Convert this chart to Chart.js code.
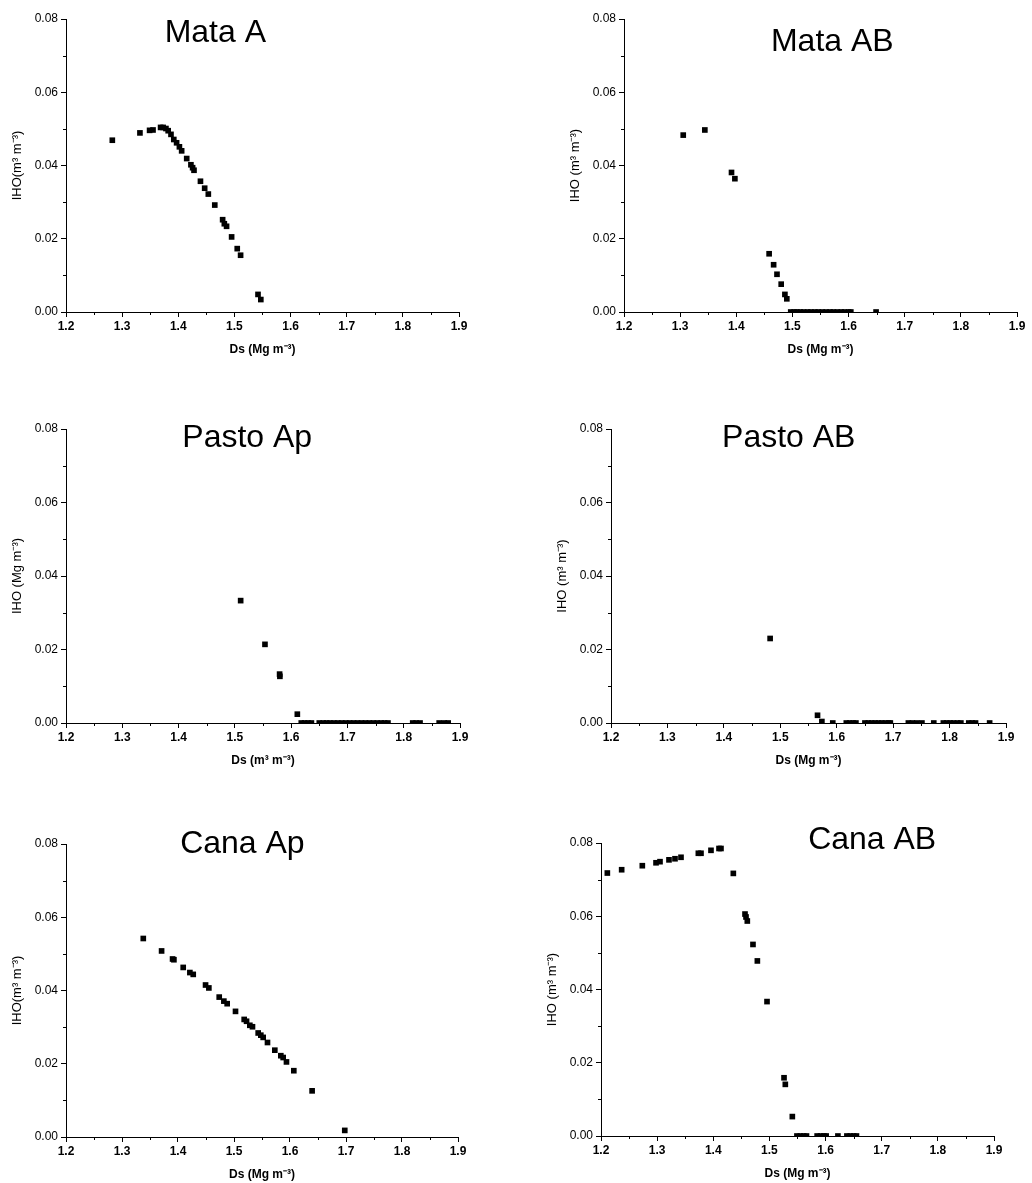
<!DOCTYPE html>
<html>
<head>
<meta charset="utf-8">
<script src="https://cdn.jsdelivr.net/npm/chart.js@4.4.1/dist/chart.umd.min.js"></script>
<style>
  body { margin: 0; background: #fff; }
  #wrap { position: relative; width: 1032px; height: 1183px; }
  canvas { position: absolute; }
</style>
</head>
<body>
<div id="wrap">
  <canvas id="c1" style="left:0px;top:0px" width="474" height="357"></canvas>
  <canvas id="c2" style="left:558px;top:0px" width="474" height="357"></canvas>
  <canvas id="c3" style="left:0px;top:410px" width="475" height="358"></canvas>
  <canvas id="c4" style="left:545px;top:410px" width="476" height="358"></canvas>
  <canvas id="c5" style="left:0px;top:825px" width="473" height="357"></canvas>
  <canvas id="c6" style="left:535px;top:824px" width="474" height="357"></canvas>
</div>
<script>
// Mata A
const mataA_x = [1.2825, 1.3317, 1.3489, 1.355, 1.3685, 1.373, 1.378, 1.382, 1.387, 1.392, 1.397, 1.402, 1.406,
  1.415, 1.4225, 1.4255, 1.428, 1.4395, 1.447, 1.4535, 1.465, 1.479, 1.482, 1.486, 1.495, 1.505, 1.511, 1.542, 1.547];
const mataA_y = [0.0469, 0.0489, 0.0496, 0.0497, 0.0504, 0.0504, 0.0501, 0.0495, 0.0485, 0.0471, 0.0462, 0.0451, 0.0440,
  0.0419, 0.0402, 0.0394, 0.0387, 0.0357, 0.0338, 0.0322, 0.0292, 0.0252, 0.0241, 0.0234, 0.0205, 0.0173, 0.0155, 0.0048, 0.0034];

// Mata AB
const mataAB_x = [1.3055, 1.344, 1.3915, 1.3975, 1.4585, 1.4665, 1.4725, 1.480, 1.4866, 1.490,
  1.497, 1.503, 1.508, 1.514, 1.52, 1.527, 1.533, 1.54, 1.546, 1.553, 1.56, 1.567, 1.573, 1.58, 1.587, 1.593, 1.6, 1.604, 1.649];
const mataAB_y = [0.0483, 0.0497, 0.0381, 0.0364, 0.0159, 0.0129, 0.0103, 0.0076, 0.0048, 0.0036,
  0, 0, 0, 0, 0, 0, 0, 0, 0, 0, 0, 0, 0, 0, 0, 0, 0, 0, 0];

// Pasto Ap
const pastoAp_x = [1.5103, 1.5535, 1.5795, 1.580, 1.611,
  1.618, 1.624, 1.63, 1.636, 1.65, 1.657, 1.663, 1.669, 1.676, 1.683, 1.69, 1.697, 1.704, 1.711, 1.718,
  1.725, 1.732, 1.739, 1.746, 1.753, 1.76, 1.766, 1.772, 1.816, 1.822, 1.829, 1.863, 1.872, 1.879];
const pastoAp_y = [0.0333, 0.0214, 0.0133, 0.0127, 0.0024,
  0, 0, 0, 0, 0, 0, 0, 0, 0, 0, 0, 0, 0, 0, 0,
  0, 0, 0, 0, 0, 0, 0, 0, 0, 0, 0, 0, 0, 0];

// Pasto AB
const pastoAB_x = [1.482, 1.566, 1.5737, 1.593, 1.617, 1.623, 1.629, 1.634, 1.65, 1.656, 1.662, 1.668, 1.674,
  1.68, 1.686, 1.692, 1.695, 1.727, 1.734, 1.742, 1.751, 1.772, 1.789, 1.795, 1.801, 1.807, 1.814, 1.82,
  1.834, 1.84, 1.846, 1.871];
const pastoAB_y = [0.0230, 0.0021, 0.0004, 0, 0, 0, 0, 0, 0, 0, 0, 0, 0,
  0, 0, 0, 0, 0, 0, 0, 0, 0, 0, 0, 0, 0, 0, 0,
  0, 0, 0, 0];

// Cana Ap
const canaAp_x = [1.338, 1.3707, 1.3903, 1.3927, 1.4093, 1.4212, 1.4272, 1.4492, 1.4551, 1.4736, 1.4819, 1.4878,
  1.5027, 1.5182, 1.5224, 1.5283, 1.533, 1.5432, 1.5479, 1.5521, 1.5598, 1.5729, 1.5836, 1.5878, 1.5937,
  1.6068, 1.6395, 1.6978];
const canaAp_y = [0.0542, 0.0508, 0.0486, 0.0484, 0.0463, 0.0449, 0.0444, 0.0415, 0.0407, 0.0382, 0.0371, 0.0364,
  0.0343, 0.0321, 0.0316, 0.0305, 0.0301, 0.0284, 0.0278, 0.0272, 0.0258, 0.0237, 0.0222, 0.0217, 0.0205,
  0.0181, 0.0126, 0.0018];

// Cana AB
const canaAB_x = [1.2113, 1.2368, 1.2736, 1.298, 1.3051, 1.3211, 1.3318, 1.3425, 1.3734, 1.3781, 1.3959, 1.4102,
  1.4137, 1.4357, 1.4565, 1.4583, 1.4606, 1.4707, 1.4785, 1.4957, 1.526, 1.5283, 1.5408,
  1.549, 1.555, 1.561, 1.566, 1.585, 1.591, 1.597, 1.601, 1.622, 1.638, 1.644, 1.65, 1.655];
const canaAB_y = [0.0718, 0.0727, 0.0738, 0.0746, 0.0749, 0.0754, 0.0757, 0.0761, 0.0772, 0.0772, 0.0780, 0.0785,
  0.0785, 0.0717, 0.0606, 0.0598, 0.0587, 0.0523, 0.0478, 0.0367, 0.0159, 0.0141, 0.0053,
  0, 0, 0, 0, 0, 0, 0, 0, 0, 0, 0, 0, 0];

const X_MIN = 1.2, X_MAX = 1.9, X_STEP = 0.1;
const Y_MIN = 0, Y_MAX = 0.08, Y_STEP = 0.02;
const FONT = 'Arial, "Liberation Sans", sans-serif';

// Titre dessiné dans la zone du graphique (fractions de la zone)
const panelTitle = {
  id: 'panelTitle',
  afterDraw(chart, args, opts) {
    const a = chart.chartArea;
    const ctx = chart.ctx;
    ctx.save();
    ctx.font = '32px ' + FONT;
    ctx.fillStyle = '#000';
    ctx.textAlign = 'center';
    ctx.textBaseline = 'middle';
    ctx.fillText(opts.text, a.left + opts.fx * (a.right - a.left), a.top + opts.fy * (a.bottom - a.top));
    ctx.restore();
  }
};

// Petits traits mineurs entre les graduations principales (style Origin)
const minorTicks = {
  id: 'minorTicks',
  afterDraw(chart) {
    const ctx = chart.ctx;
    const xs = chart.scales.x, ys = chart.scales.y;
    ctx.save();
    ctx.strokeStyle = '#000';
    ctx.lineWidth = 1;
    ctx.beginPath();
    for (let i = 0; i < xs.ticks.length - 1; i++) {
      const px = Math.round(xs.getPixelForValue((xs.ticks[i].value + xs.ticks[i + 1].value) / 2)) + 0.5;
      ctx.moveTo(px, xs.top);
      ctx.lineTo(px, xs.top + 3);
    }
    for (let i = 0; i < ys.ticks.length - 1; i++) {
      const py = Math.round(ys.getPixelForValue((ys.ticks[i].value + ys.ticks[i + 1].value) / 2)) + 0.5;
      ctx.moveTo(ys.right, py);
      ctx.lineTo(ys.right - 3, py);
    }
    ctx.stroke();
    ctx.restore();
  }
};

function makePanel(id, xs, ys, title, fx, fy, yTitle, xTitle) {
  const pts = xs.map((x, i) => ({ x, y: ys[i] }));
  new Chart(document.getElementById(id), {
    type: 'scatter',
    data: {
      datasets: [{
        data: pts,
        pointStyle: 'rect',
        pointRadius: 4,
        backgroundColor: '#000',
        borderWidth: 0,
      }],
    },
    plugins: [panelTitle, minorTicks],
    options: {
      responsive: false,
      animation: false,
      layout: { padding: { top: 19, right: 15, left: 0, bottom: 0 } },
      plugins: {
        legend: { display: false },
        tooltip: { enabled: false },
        panelTitle: { text: title, fx, fy },
      },
      scales: {
        x: {
          type: 'linear',
          min: X_MIN,
          max: X_MAX,
          afterFit: (s) => { s.height = 45; },
          border: { color: '#000', width: 1 },
          grid: { drawOnChartArea: false, tickLength: 5, tickColor: '#000' },
          ticks: {
            stepSize: X_STEP,
            autoSkip: false,
            maxRotation: 0,
            padding: 2,
            color: '#000',
            font: { family: FONT, size: 12, weight: 'bold' },
            callback: (v) => v.toFixed(1),
          },
          title: {
            display: true,
            text: xTitle,
            color: '#000',
            padding: { top: 6, bottom: 0 },
            font: { family: FONT, size: 12, weight: 'bold' },
          },
        },
        y: {
          type: 'linear',
          min: Y_MIN,
          max: Y_MAX,
          afterFit: (s) => { s.width = 66; },
          border: { color: '#000', width: 1 },
          grid: { drawOnChartArea: false, tickLength: 5, tickColor: '#000' },
          ticks: {
            stepSize: Y_STEP,
            autoSkip: false,
            padding: 3,
            color: '#000',
            font: { family: FONT, size: 12 },
            callback: (v) => v.toFixed(2),
          },
          title: {
            display: true,
            text: yTitle,
            color: '#000',
            padding: { top: 10, bottom: 0 },
            font: { family: FONT, size: 13 },
          },
        },
      },
    },
  });
}

makePanel('c1', mataA_x, mataA_y, 'Mata A', 0.38, 0.05, 'IHO(m³ m⁻³)', 'Ds (Mg m⁻³)');
makePanel('c2', mataAB_x, mataAB_y, 'Mata AB', 0.53, 0.08, 'IHO (m³ m⁻³)', 'Ds (Mg m⁻³)');
makePanel('c3', pastoAp_x, pastoAp_y, 'Pasto Ap', 0.46, 0.03, 'IHO (Mg m⁻³)', 'Ds (m³ m⁻³)');
makePanel('c4', pastoAB_x, pastoAB_y, 'Pasto AB', 0.45, 0.03, 'IHO (m³ m⁻³)', 'Ds (Mg m⁻³)');
makePanel('c5', canaAp_x, canaAp_y, 'Cana Ap', 0.45, 0.0, 'IHO(m³ m⁻³)', 'Ds (Mg m⁻³)');
makePanel('c6', canaAB_x, canaAB_y, 'Cana AB', 0.69, -0.01, 'IHO (m³ m⁻³)', 'Ds (Mg m⁻³)');
</script>
</body>
</html>
